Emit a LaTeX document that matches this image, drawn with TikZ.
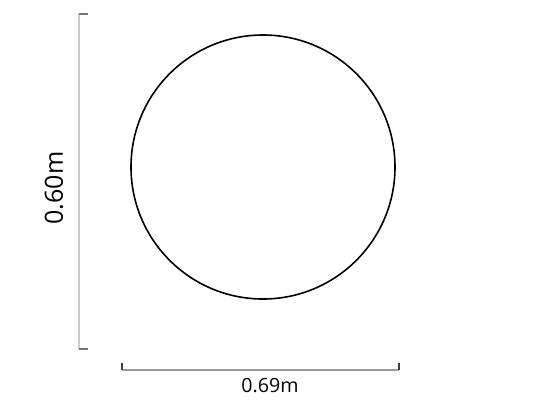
\documentclass[tikz,border=0pt]{standalone}
\usepackage{fontspec}
\setmainfont{Open Sans}
\begin{document}
\begin{tikzpicture}[x=1pt,y=-1pt,
  shape circ/.style={draw=black,line width=1.6pt,circle,minimum size=264pt,inner sep=0pt},
  dimline/.style={line width=1.6pt},
  dimtick/.style={line width=2.6pt},
  dimlabel/.style={inner sep=0pt,text=black}]
\useasboundingbox (0,0) rectangle (541,400);
\node[shape circ] (c) at (263,167) {};
% vertical dimension
\coordinate (vt) at (79,14);
\coordinate (vb) at (79,349);
\coordinate (vtr) at (88,14);
\coordinate (vbr) at (88,349);
\draw[dimline,draw=black!20] (vt) -- (vb);
\draw[dimtick,draw=black!55] (vt) -- (vtr);
\draw[dimtick,draw=black!55] (vb) -- (vbr);
\node[dimlabel,rotate=90,font=\fontsize{25}{25}\selectfont] (lv) at (54,188) {0.60m};
% horizontal dimension
\coordinate (hl) at (122,370);
\coordinate (hr) at (399,370);
\coordinate (hlt) at (122,363);
\coordinate (hrt) at (399,363);
\draw[dimline,draw=black!40] (hl) -- (hr);
\draw[dimtick,draw=black!75] (hl) -- (hlt);
\draw[dimtick,draw=black!75] (hr) -- (hrt);
\node[dimlabel,font=\fontsize{19.6}{20}\selectfont] (lh) at (270,386) {0.69m};
\end{tikzpicture}
\end{document}
